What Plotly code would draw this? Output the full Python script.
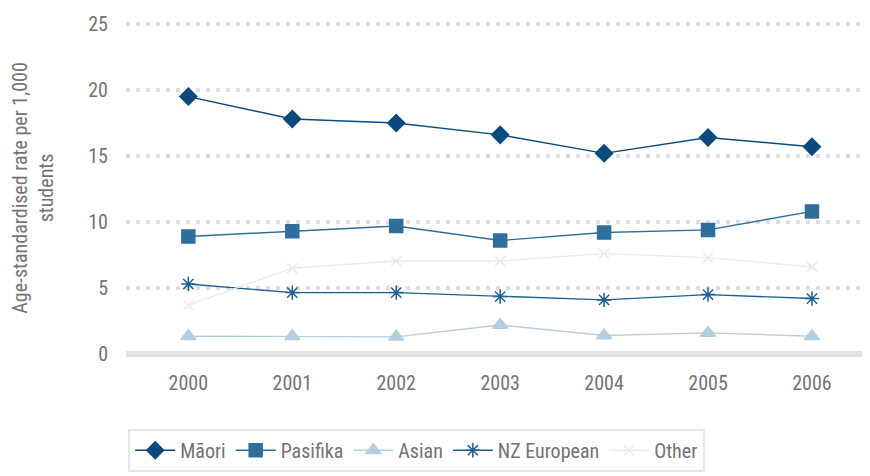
import plotly.graph_objects as go

years = ["2000", "2001", "2002", "2003", "2004", "2005", "2006"]

maori = [19.5, 17.8, 17.5, 16.6, 15.2, 16.4, 15.7]
pasifika = [8.9, 9.3, 9.7, 8.6, 9.2, 9.4, 10.8]
asian = [1.35, 1.35, 1.3, 2.2, 1.4, 1.6, 1.35]
nz_european = [5.3, 4.65, 4.65, 4.35, 4.1, 4.5, 4.2]
other = [3.7, 6.5, 7.05, 7.05, 7.6, 7.3, 6.6]

# (navn, data, farve, markør, størrelse)
series = [
    ("Māori", maori, "#0b4a7d", "diamond", 13),
    ("Pasifika", pasifika, "#2f6f9c", "square", 13),
    ("Asian", asian, "#b5cddf", "triangle-up", 13),
    ("NZ European", nz_european, "#1f5f93", "asterisk", 12),
    ("Other", other, "#e2ecf4", "x-thin", 10),
]

font_family = ("Liberation Sans Narrow, Roboto Condensed, DejaVu Sans Condensed, "
               "Noto Sans Condensed, Open Sans Condensed, Arial Narrow, Open Sans")
grey = "#737373"

fig = go.Figure()
for name, values, color, symbol, size in series:
    fig.add_trace(go.Scatter(
        x=years,
        y=values,
        mode="lines+markers",
        name=name,
        line=dict(color=color, width=1.4),
        marker=dict(symbol=symbol, size=size, color=color,
                    line=dict(color=color, width=1.5)),
    ))

# Siden har 8px body-margin, så figuren gøres 8px mindre
fig.update_layout(
    width=862,
    height=468,
    margin=dict(l=115, r=4, t=14, b=112),
    paper_bgcolor="white",
    plot_bgcolor="white",
    font=dict(family=font_family, color=grey, size=19),
    showlegend=True,
    legend=dict(
        orientation="h",
        x=0.003,
        xanchor="left",
        y=-0.225,
        yanchor="top",
        bordercolor="#e6e6e6",
        borderwidth=2,
        font=dict(size=20, color=grey),
        itemwidth=40,
    ),
    xaxis=dict(
        type="category",
        range=[-0.6, 6.52],
        showgrid=False,
        showline=False,
        ticks="outside",
        ticklen=11,
        tickcolor="rgba(0,0,0,0)",
        tickfont=dict(size=20, color=grey),
        automargin=False,
    ),
    yaxis=dict(
        range=[0, 25.15],
        tickvals=[0, 5, 10, 15, 20, 25],
        showgrid=True,
        gridcolor="#dedede",
        gridwidth=4,
        griddash="4px,6px",
        zeroline=True,
        zerolinecolor="#e1e1e1",
        zerolinewidth=6,
        showline=False,
        ticks="outside",
        ticklen=13,
        tickcolor="rgba(0,0,0,0)",
        tickfont=dict(size=20, color=grey),
        automargin=True,
        title=dict(text="Age-standardised rate per 1,000<br>students",
                   font=dict(size=20, color=grey), standoff=36),
    ),
)

fig.write_html("out.html")
